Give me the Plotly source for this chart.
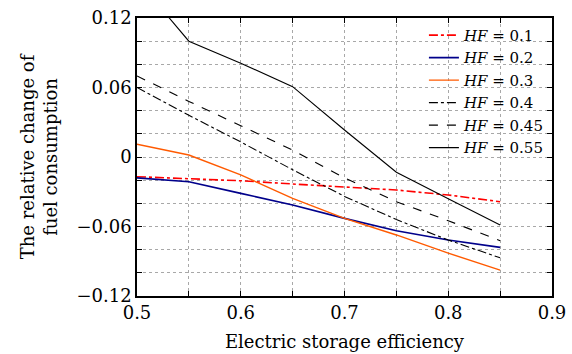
import plotly.graph_objects as go

x = [0.5, 0.55, 0.6, 0.65, 0.7, 0.75, 0.8, 0.85]
hf_labels = ["0.1", "0.2", "0.3", "0.4", "0.45", "0.55"]
y_hf01 = [-0.017, -0.0185, -0.0205, -0.0233, -0.026, -0.0285, -0.0328, -0.0386]
y_hf02 = [-0.018, -0.0213, -0.0314, -0.0414, -0.053, -0.0636, -0.0717, -0.078]
y_hf03 = [0.011, 0.0017, -0.0155, -0.0357, -0.053, -0.0673, -0.083, -0.0976]
y_hf04 = [0.06, 0.036, 0.013, -0.011, -0.034, -0.054, -0.0717, -0.087]
y_hf045 = [0.07, 0.048, 0.027, 0.006, -0.018, -0.0386, -0.055, -0.0723]
y_hf055 = [0.153, 0.1, 0.081, 0.0607, 0.0233, -0.0132, -0.036, -0.0587]

series = [y_hf01, y_hf02, y_hf03, y_hf04, y_hf045, y_hf055]
colors = ["#ff0000", "#00008b", "#ff5a00", "#000000", "#000000", "#000000"]
dashes = ["dashdot", "solid", "solid", "dashdot", "dash", "solid"]
widths = [1.6, 1.6, 1.4, 1.1, 1.1, 1.1]

fig = go.Figure()
for lab, ys, c, d, w in zip(hf_labels, series, colors, dashes, widths):
    fig.add_trace(go.Scatter(x=x, y=ys, mode="lines", name=f"<i>HF</i> = {lab}",
                             line=dict(color=c, dash=d, width=w)))

font = "DejaVu Serif, serif"
axis_common = dict(showline=True, linecolor="black", linewidth=1.5, mirror="allticks",
                   ticks="inside", ticklen=5, tickcolor="black", showgrid=True,
                   gridcolor="#a8a8a8", griddash="dot", gridwidth=1, zeroline=False,
                   automargin=False,
                   tickfont=dict(family=font, size=18, color="black"))
fig.update_xaxes(range=[0.5, 0.9], dtick=0.1, tick0=0.5, tickformat=".1f",
                 minor=dict(dtick=0.05, showgrid=True, gridcolor="#a8a8a8", griddash="dot",
                            ticks="inside", ticklen=5, tickcolor="black"),
                 title=dict(text="Electric storage efficiency", font=dict(family=font, size=18, color="black"), standoff=13),
                 **axis_common)
fig.update_yaxes(range=[-0.12, 0.12], tickvals=[-0.12, -0.06, 0, 0.06, 0.12],
                 ticktext=["\u22120.12", "\u22120.06", "0", "0.06", "0.12"],
                 minor=dict(tickvals=[-0.1, -0.08, -0.04, -0.02, 0.02, 0.04, 0.08, 0.1], showgrid=True,
                            gridcolor="#a8a8a8", griddash="dot",
                            ticks="inside", ticklen=5, tickcolor="black"),
                 title=dict(text="The relative change of<br>fuel consumption", font=dict(family=font, size=18, color="black"), standoff=14),
                 **axis_common)
fig.update_layout(width=572, height=354, margin=dict(l=137, r=20, t=18, b=58),
                  plot_bgcolor="white", paper_bgcolor="white",
                  legend=dict(x=0.995, y=0.997, xanchor="right", yanchor="top", bgcolor="rgba(255,255,255,0)",
                              font=dict(family=font, size=15, color="black"), tracegroupgap=0,
                              itemwidth=30))
fig.write_html("out.html")
